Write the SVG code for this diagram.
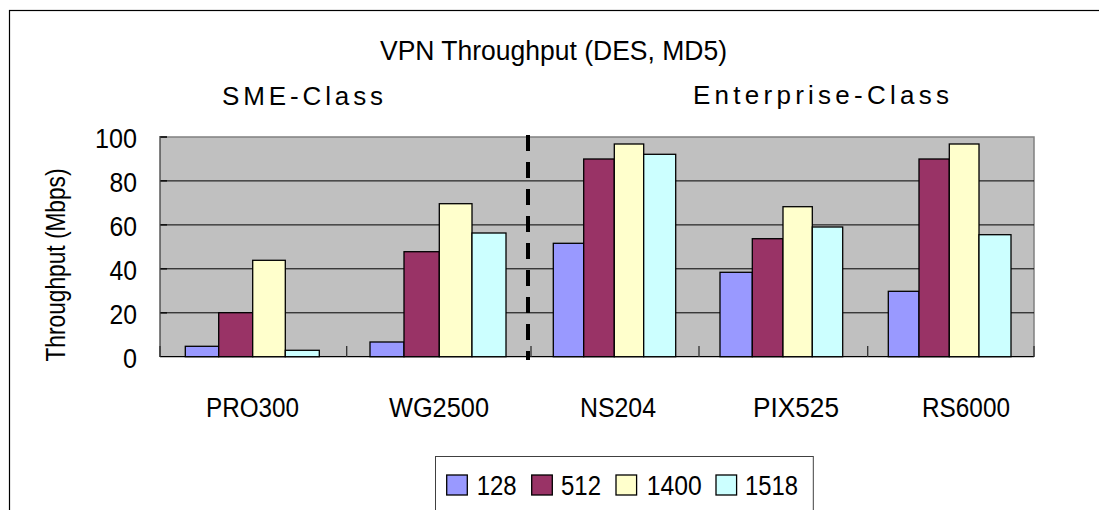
<svg xmlns="http://www.w3.org/2000/svg" width="1099" height="510" viewBox="0 0 1099 510">
<style>
text{font-family:"Liberation Sans",Arial,sans-serif;fill:#000}
.t{font-size:27px}
.cls{font-size:26px}
.grid{stroke:#000;stroke-width:1}
.bar{stroke:#000;stroke-width:1.3}
.b1{fill:#9999FF}.b2{fill:#993366}.b3{fill:#FFFFCC}.b4{fill:#CCFFFF}
</style>
<rect x="0" y="0" width="1099" height="510" fill="#fff"/>
<rect x="9.5" y="10.5" width="1200" height="600" fill="none" stroke="#000" stroke-width="1.2"/>
<g id="titles">
<text class="t" x="380" y="60" textLength="347" lengthAdjust="spacingAndGlyphs">VPN Throughput (DES, MD5)</text>
<text class="cls" x="222" y="105" textLength="161" lengthAdjust="spacing">SME-Class</text>
<text class="cls" x="693" y="104" textLength="256" lengthAdjust="spacing">Enterprise-Class</text>
<text class="t" transform="translate(65,265) rotate(-90)" text-anchor="middle" textLength="193" lengthAdjust="spacingAndGlyphs">Throughput (Mbps)</text>
</g>
<g id="plot">
<rect x="160" y="137" width="874" height="219.7" fill="#C0C0C0"/>
<path d="M160 137H1034V356.7" fill="none" stroke="#808080" stroke-width="1.5"/>
<path class="grid" d="M160 180.9H1034M160 224.9H1034M160 268.8H1034M160 312.8H1034"/>
<path d="M160 137H167M160 180.9H167M160 224.9H167M160 268.8H167M160 312.8H167" stroke="#000" stroke-width="1.3"/>
<path d="M160 136V357" stroke="#404040" stroke-width="1.3"/>
<path d="M160 356.7H1034" stroke="#000" stroke-width="1.3"/>
<path d="M160 346V357M346.7 346V357M531 346V357M699 346V357M867.7 346V357M1034 346V357" stroke="#303030" stroke-width="1.3"/>
</g>
<g id="yaxis">
<text class="t" x="137" y="148" text-anchor="end" textLength="42" lengthAdjust="spacingAndGlyphs">100</text>
<text class="t" x="137" y="191.9" text-anchor="end" textLength="27.5" lengthAdjust="spacingAndGlyphs">80</text>
<text class="t" x="137" y="235.9" text-anchor="end" textLength="27.5" lengthAdjust="spacingAndGlyphs">60</text>
<text class="t" x="137" y="279.8" text-anchor="end" textLength="27.5" lengthAdjust="spacingAndGlyphs">40</text>
<text class="t" x="137" y="323.8" text-anchor="end" textLength="27.5" lengthAdjust="spacingAndGlyphs">20</text>
<text class="t" x="137" y="367.7" text-anchor="end" textLength="14" lengthAdjust="spacingAndGlyphs">0</text>
</g>
<g id="PRO300">
<rect class="bar b1" x="185.3" y="346.3" width="33.4" height="10.4"/>
<rect class="bar b2" x="218.7" y="312.7" width="34" height="44"/>
<rect class="bar b3" x="252.7" y="260.3" width="32.6" height="96.4"/>
<rect class="bar b4" x="285.3" y="350.3" width="34" height="6.4"/>
<text class="t" x="252.5" y="416.5" text-anchor="middle" textLength="93" lengthAdjust="spacingAndGlyphs">PRO300</text>
</g>
<g id="WG2500">
<rect class="bar b1" x="370" y="342" width="34" height="14.7"/>
<rect class="bar b2" x="404" y="251.7" width="35.3" height="105"/>
<rect class="bar b3" x="439.3" y="203.7" width="32.7" height="153"/>
<rect class="bar b4" x="472" y="233" width="34" height="123.7"/>
<text class="t" x="439" y="416.5" text-anchor="middle" textLength="100" lengthAdjust="spacingAndGlyphs">WG2500</text>
</g>
<g id="NS204">
<rect class="bar b1" x="553.3" y="243.3" width="30.4" height="113.4"/>
<rect class="bar b2" x="583.7" y="159" width="30.6" height="197.7"/>
<rect class="bar b3" x="614.3" y="144" width="29.4" height="212.7"/>
<rect class="bar b4" x="643.7" y="154.3" width="32" height="202.4"/>
<text class="t" x="618" y="416.5" text-anchor="middle" textLength="76" lengthAdjust="spacingAndGlyphs">NS204</text>
</g>
<g id="PIX525">
<rect class="bar b1" x="720" y="272.3" width="32.3" height="84.4"/>
<rect class="bar b2" x="752.3" y="238.7" width="30.7" height="118"/>
<rect class="bar b3" x="783" y="206.7" width="29.3" height="150"/>
<rect class="bar b4" x="812.3" y="227" width="30.4" height="129.7"/>
<text class="t" x="796" y="416.5" text-anchor="middle" textLength="86" lengthAdjust="spacingAndGlyphs">PIX525</text>
</g>
<g id="RS6000">
<rect class="bar b1" x="888.3" y="291.3" width="30.7" height="65.4"/>
<rect class="bar b2" x="919" y="159" width="30.3" height="197.7"/>
<rect class="bar b3" x="949.3" y="144" width="29.7" height="212.7"/>
<rect class="bar b4" x="979" y="234.7" width="32" height="122"/>
<text class="t" x="966" y="416.5" text-anchor="middle" textLength="88" lengthAdjust="spacingAndGlyphs">RS6000</text>
</g>
<g id="connectors">
<path d="M528 135V360" stroke="#000" stroke-width="4" stroke-dasharray="16 11"/>
</g>
<g id="legend">
<rect x="435.5" y="456.5" width="377.8" height="80" fill="#fff" stroke="#404040" stroke-width="1"/>
<rect class="bar b1" x="446.7" y="475" width="20.6" height="20"/>
<text class="t" x="476.7" y="494.5" textLength="40" lengthAdjust="spacingAndGlyphs">128</text>
<rect class="bar b2" x="531.7" y="475" width="20.6" height="20"/>
<text class="t" x="561" y="494.5" textLength="40" lengthAdjust="spacingAndGlyphs">512</text>
<rect class="bar b3" x="616" y="475" width="20.6" height="20"/>
<text class="t" x="646.7" y="494.5" textLength="55" lengthAdjust="spacingAndGlyphs">1400</text>
<rect class="bar b4" x="716" y="475" width="20.6" height="20"/>
<text class="t" x="745" y="494.5" textLength="53" lengthAdjust="spacingAndGlyphs">1518</text>
</g>
</svg>
